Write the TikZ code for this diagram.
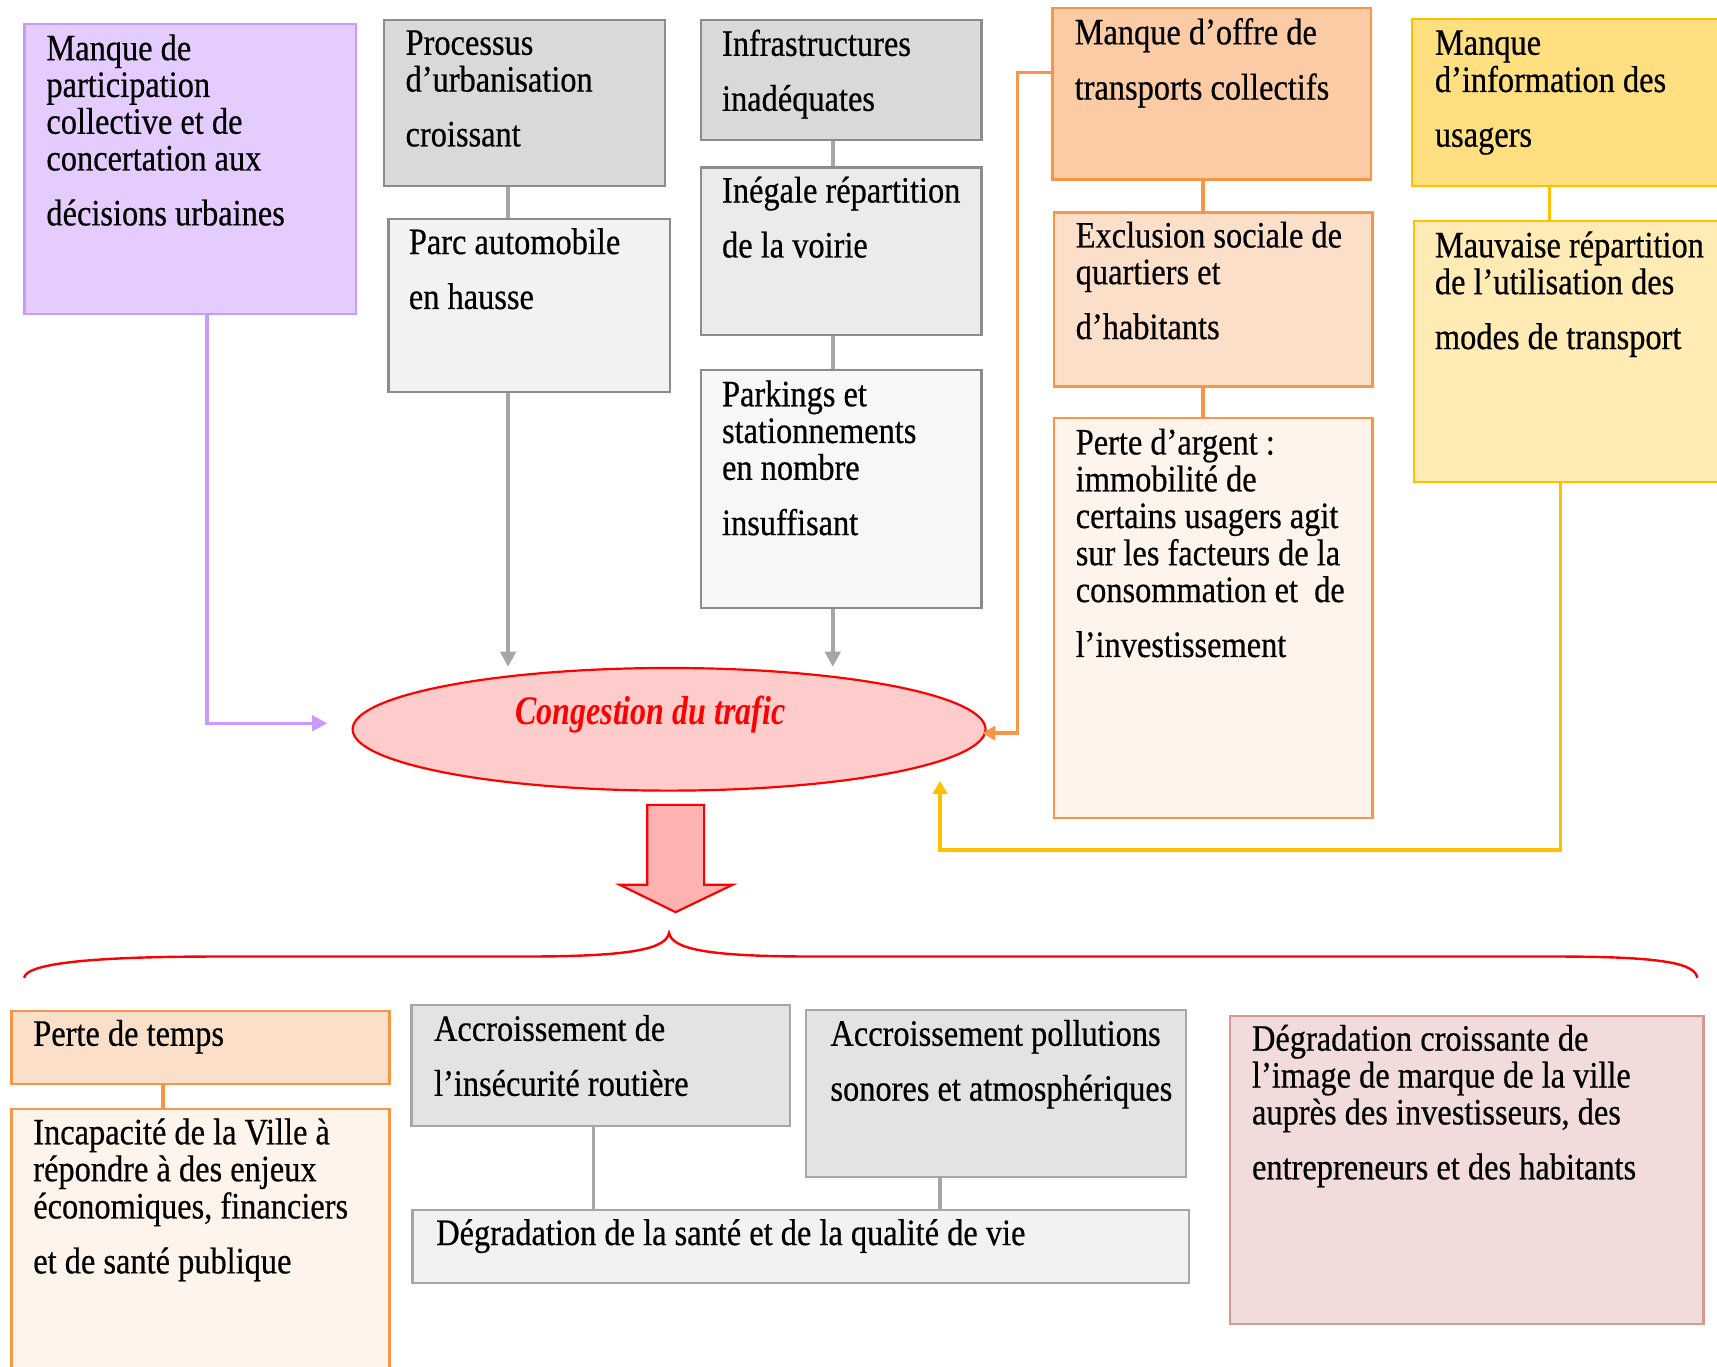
\documentclass[tikz,border=0pt]{standalone}
\usepackage{fontspec}
\setmainfont{Liberation Serif}
\newfontfamily\cond[FakeStretch=0.87,FakeBold=0.5]{Liberation Serif}
\newfontfamily\condb[FakeStretch=0.79]{Liberation Serif}
\usetikzlibrary{arrows.meta,fit,shapes.geometric}
\definecolor{purpfill}{HTML}{E5CCFF}
\definecolor{purpdraw}{HTML}{CC99FF}
\definecolor{grayA}{HTML}{D9D9D9}
\definecolor{grayB}{HTML}{F2F2F2}
\definecolor{grayC}{HTML}{EBEBEB}
\definecolor{grayD}{HTML}{F7F7F7}
\definecolor{grayE}{HTML}{E3E3E3}
\definecolor{graydraw}{HTML}{8C8C8C}
\definecolor{graylight}{HTML}{A6A6A6}
\definecolor{orgdraw}{HTML}{F79646}
\definecolor{orgA}{HTML}{FBCBA5}
\definecolor{orgB}{HTML}{FBDFC8}
\definecolor{orgC}{HTML}{FEF4EC}
\definecolor{yeldraw}{HTML}{FFC000}
\definecolor{yelA}{HTML}{FFDF80}
\definecolor{yelB}{HTML}{FFEBB3}
\definecolor{pinkfill}{HTML}{F2DCDB}
\definecolor{pinkdraw}{HTML}{D99694}
\definecolor{ellfill}{HTML}{FFCCCC}
\definecolor{arrfill}{HTML}{FFB2B2}
\tikzset{
  boxbase/.style={inner sep=0pt, line width=1pt},
  txt/.style={inner sep=0pt, anchor=base west, font=\cond\fontsize{17}{16.75}\selectfont},
  gline/.style={draw=graylight, line width=1.75pt},
  garrow/.style={gline, -{Triangle[length=7pt,width=7pt]}},
  pline/.style={draw=purpdraw, line width=1.6pt, -{Triangle[length=7pt,width=7pt]}},
  oline/.style={draw=orgdraw, line width=1.6pt},
  oarrow/.style={oline, -{Triangle[length=6pt,width=6.5pt]}},
  yline/.style={draw=yeldraw, line width=1.6pt},
  yarrow/.style={yline, -{Triangle[length=6pt,width=6.5pt]}},
}
\newcommand{\lgap}{\\[8.25pt]}
\newcommand{\tl}[1]{\begin{tabular}[t]{@{}l@{}}#1\end{tabular}}
\begin{document}
\begin{tikzpicture}[x=0.5pt,y=-0.5pt]
\useasboundingbox (0,0) rectangle (1568,1248);
\fill[white] (0,0) rectangle (1568,1248);
% ---- boxes ----
\node[boxbase, fit={(22.4,22) (325.4,287)}, fill=purpfill, draw=purpdraw] (purp) {};
\node[boxbase, fit={(350.6,18) (607.4,170)}, fill=grayA, draw=graydraw] (proc) {};
\node[boxbase, fit={(354.7,200) (611.5,358)}, fill=grayB, draw=graydraw] (parc) {};
\node[boxbase, fit={(640.4,18) (896.4,128)}, fill=grayA, draw=graydraw] (infra) {};
\node[boxbase, fit={(640.4,153) (896.4,306)}, fill=grayC, draw=graydraw] (ineg) {};
\node[boxbase, fit={(640.4,338) (896.4,555)}, fill=grayD, draw=graydraw] (park) {};
\node[boxbase, fit={(961.1,7) (1252.2,164)}, fill=orgA, draw=orgdraw] (off) {};
\node[boxbase, fit={(962.3,194) (1253.4,353)}, fill=orgB, draw=orgdraw] (excl) {};
\node[boxbase, fit={(962.3,382) (1253.4,747)}, fill=orgC, draw=orgdraw] (argent) {};
\node[boxbase, fit={(1289.6,17) (1580,170)}, fill=yelA, draw=yeldraw] (info) {};
\node[boxbase, fit={(1291.5,202) (1580,440)}, fill=yelB, draw=yeldraw] (mauv) {};
\node[boxbase, fit={(10.5,923) (355.7,990)}, fill=orgB, draw=orgdraw] (ptemps) {};
\node[boxbase, fit={(10.5,1013) (355.7,1262)}, fill=orgC, draw=orgdraw] (incap) {};
\node[boxbase, fit={(375.7,918) (721.4,1028)}, fill=grayE, draw=graylight] (insec) {};
\node[boxbase, fit={(735.9,922) (1083.1,1075)}, fill=grayE, draw=graylight] (pollu) {};
\node[boxbase, fit={(376.7,1105) (1085.8,1171.5)}, fill=grayB, draw=graylight] (sante) {};
\node[boxbase, fit={(1123.1,928) (1555.7,1209)}, fill=pinkfill, draw=pinkdraw] (image) {};
% ---- ellipse ----
\node[ellipse, inner sep=0pt, minimum width=289pt, minimum height=56pt, fill=ellfill, draw=red, line width=1pt] (ell) at (611,666) {};
\node[inner sep=0pt, anchor=base, text=red, font=\condb\bfseries\itshape\fontsize{18.5}{18}\selectfont] (ellt) at (594,662) {Congestion du trafic};
% ---- texts ----
\node[txt] (purpt) at (42,55) {\tl{Manque de\\ participation\\ collective et de\\ concertation aux\lgap décisions urbaines}};
\node[txt] (proct) at (370,50) {\tl{Processus\\ d’urbanisation\lgap croissant}};
\node[txt] (parct) at (373,232) {\tl{Parc automobile\lgap en hausse}};
\node[txt] (infrat) at (659,51) {\tl{Infrastructures\lgap inadéquates}};
\node[txt] (inegt) at (659,185) {\tl{Inégale répartition\lgap de la voirie}};
\node[txt] (parkt) at (659,371) {\tl{Parkings et\\ stationnements\\ en nombre\lgap insuffisant}};
\node[txt] (offt) at (981,40.5) {\tl{Manque d’offre de\lgap transports collectifs}};
\node[txt] (exclt) at (982,226) {\tl{Exclusion sociale de\\ quartiers et\lgap d’habitants}};
\node[txt] (argentt) at (982,415) {\tl{Perte d’argent :\\ immobilité de\\ certains usagers agit\\ sur les facteurs de la\\ consommation et\ \ de\lgap l’investissement}};
\node[txt] (infot) at (1310,50) {\tl{Manque\\ d’information des\lgap usagers}};
\node[txt] (mauvt) at (1310,235) {\tl{Mauvaise répartition\\ de l’utilisation des\lgap modes de transport}};
\node[txt] (ptempst) at (30,955) {\tl{Perte de temps}};
\node[txt] (incapt) at (30,1045) {\tl{Incapacité de la Ville à\\ répondre à des enjeux\\ économiques, financiers\lgap et de santé publique}};
\node[txt] (insect) at (396,950.5) {\tl{Accroissement de\lgap l’insécurité routière}};
\node[txt] (pollut) at (758,955) {\tl{Accroissement pollutions\lgap sonores et atmosphériques}};
\node[txt] (santet) at (398,1137) {\tl{Dégradation de la santé et de la qualité de vie}};
\node[txt] (imaget) at (1143,959.5) {\tl{Dégradation croissante de\\ l’image de marque de la ville\\ auprès des investisseurs, des\lgap entrepreneurs et des habitants}};
% ---- helper coordinates ----
\coordinate (xa) at (464,0);
\coordinate (xb) at (760.5,0);
\coordinate (xp) at (189,0);
\coordinate (xo) at (1098.5,0);
\coordinate (xy) at (1415,0);
\coordinate (xyv) at (1425,0);
\coordinate (xt) at (149,0);
\coordinate (xi) at (542,0);
\coordinate (xq) at (858.5,0);
\coordinate (ptip) at (299,660.5);
\coordinate (ojog) at (929,66);
\coordinate (otip) at (897,669.5);
\coordinate (ycorner) at (858.5,776);
\coordinate (ytip) at (858.5,713);
% ---- connectors ----
\draw[gline] (proc.south -| xa) -- (parc.north -| xa);
\draw[garrow] (parc.south -| xa) -- (xa |- ell.north);
\draw[gline] (infra.south -| xb) -- (ineg.north -| xb);
\draw[gline] (ineg.south -| xb) -- (park.north -| xb);
\draw[garrow] (park.south -| xb) -- (xb |- ell.north);
\draw[pline] (purp.south -| xp) |- (ptip);
\draw[oline] (off.south -| xo) -- (excl.north -| xo);
\draw[oline] (excl.south -| xo) -- (argent.north -| xo);
\draw[oarrow] (off.west |- ojog) -- (ojog) |- (otip);
\draw[yline] (info.south -| xy) -- (mauv.north -| xy);
\draw[yarrow] (mauv.south -| xyv) |- (ycorner) -- (ytip);
\draw[oline] (ptemps.south -| xt) -- (incap.north -| xt);
\draw[gline] (insec.south -| xi) -- (sante.north -| xi);
\draw[gline] (pollu.south -| xq) -- (sante.north -| xq);
% ---- big arrow ----
\draw[fill=arrfill, draw=red, line width=1pt, line join=miter]
  (591,735) -- (643,735) -- (643,808) -- (669,808) -- (617,833) -- (566,808) -- (591,808) -- cycle;
% ---- brace ----
\draw[red, line width=1.1pt]
  (22,893) .. controls (24,879) and (90,873.5) .. (200,873.5)
  -- (480,873.5) .. controls (580,873.5) and (608,866) .. (611,852)
  .. controls (614,866) and (642,873.5) .. (742,873.5)
  -- (1420,873.5) .. controls (1520,873.5) and (1548,880) .. (1550,893);
\end{tikzpicture}
\end{document}
